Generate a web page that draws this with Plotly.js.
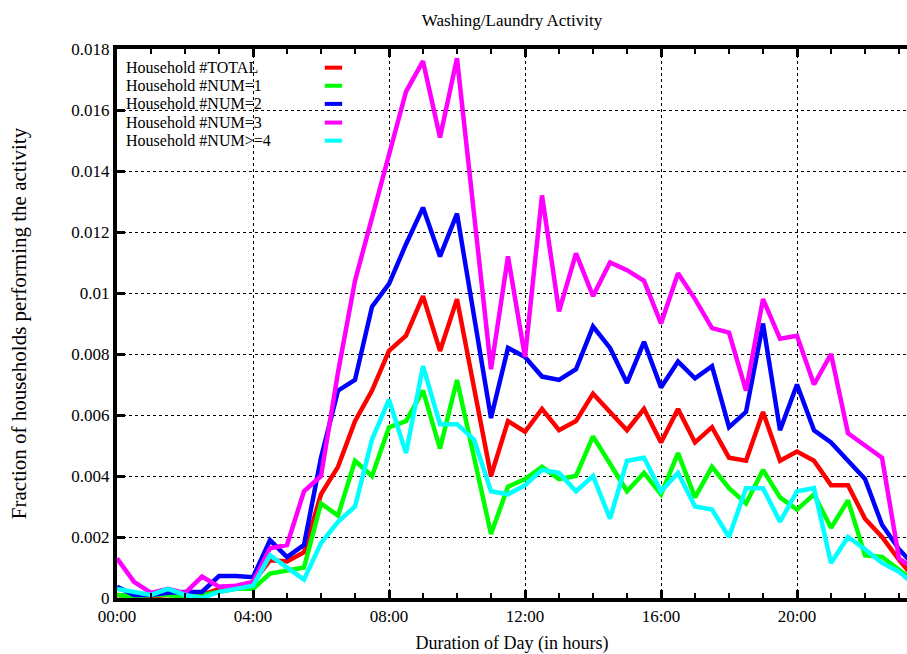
<!DOCTYPE html>
<html>
<head>
<meta charset="utf-8">
<script src="https://cdn.plot.ly/plotly-3.0.1.min.js"></script>
<style>
html,body{margin:0;padding:0;background:#fff;}
#chart{width:907px;height:654px;}
</style>
</head>
<body>
<div id="chart"></div>
<script>
// Half-hour time points (hours since midnight)
const hours = [0,0.5,1,1.5,2,2.5,3,3.5,4,4.5,5,5.5,6,6.5,7,7.5,8,8.5,9,9.5,10,10.5,11,11.5,
               12,12.5,13,13.5,14,14.5,15,15.5,16,16.5,17,17.5,18,18.5,19,19.5,20,20.5,21,21.5,22,22.5,23,23.5];

const seriesNames = ["Household #TOTAL","Household #NUM=1","Household #NUM=2","Household #NUM=3","Household #NUM>=4"];

const total = [0.0001,0.00005,0.00005,0.0001,0.0001,0.0001,0.0003,0.00038,0.0005,0.00124,0.0012,0.0015,
               0.0034,0.0043,0.0058,0.0068,0.0081,0.0086,0.0099,0.0081,0.0098,0.0069,0.0040,0.0058,
               0.00545,0.0062,0.0055,0.0058,0.0067,0.0061,0.0055,0.0062,0.0051,0.0062,0.0051,0.0056,
               0.0046,0.0045,0.0061,0.0045,0.0048,0.0045,0.0037,0.0037,0.0026,0.0020,0.00125,0.0006];

const num1 = [0.0001,0.00005,0.0001,0.0001,0.00005,0.0001,0.0002,0.0003,0.0003,0.0008,0.0009,0.001,
              0.0031,0.0027,0.0045,0.0040,0.0056,0.0058,0.0068,0.0049,0.00715,0.0046,0.0021,0.00365,
              0.0039,0.0043,0.0039,0.0040,0.0053,0.0044,0.0035,0.0041,0.0034,0.00475,0.0033,0.0043,
              0.0036,0.0031,0.0042,0.0033,0.0029,0.0034,0.0023,0.0032,0.0014,0.00135,0.0009,0.0005];

const num2 = [0.00037,0.0001,0.0001,0.00017,0.0002,0.0002,0.00072,0.00072,0.00068,0.0019,0.00134,0.00174,
              0.0046,0.0068,0.00715,0.00955,0.0103,0.0116,0.0128,0.0112,0.0126,0.0092,0.0059,0.0082,
              0.0079,0.00726,0.00715,0.0075,0.0089,0.0082,0.00705,0.0084,0.0069,0.00775,0.0072,0.0076,
              0.0056,0.0061,0.0090,0.0055,0.0070,0.0055,0.0051,0.0045,0.0039,0.0024,0.0016,0.0010];

const num3 = [0.0013,0.00053,0.00017,0.0003,0.00016,0.0007,0.00037,0.0004,0.00053,0.00163,0.00174,0.0035,
              0.0040,0.0074,0.0104,0.0125,0.0146,0.0166,0.0176,0.0151,0.0177,0.0126,0.0075,0.0112,
              0.0079,0.0132,0.0094,0.0113,0.0099,0.0110,0.01075,0.0104,0.0090,0.01065,0.0098,0.00885,
              0.0087,0.0068,0.0098,0.0085,0.0086,0.0070,0.0080,0.0054,0.0050,0.0046,0.0013,0.0009];

const num4 = [0.0003,0.0002,0.0001,0.0003,0.0001,0.0,0.0002,0.0003,0.0004,0.0014,0.001,0.0006,
              0.0018,0.0025,0.0030,0.0052,0.0065,0.00475,0.0076,0.0057,0.0057,0.0052,0.0035,0.0034,
              0.0037,0.0042,0.0041,0.0035,0.0040,0.0026,0.0045,0.0046,0.0035,0.0041,0.0030,0.0029,
              0.0020,0.0036,0.0036,0.0025,0.0035,0.0036,0.00115,0.0020,0.0016,0.00115,0.00086,0.0004];

const xTickVals = [0,4,8,12,16,20];
const xTickText = ["00:00","04:00","08:00","12:00","16:00","20:00"];
const yTickVals = [0,0.002,0.004,0.006,0.008,0.01,0.012,0.014,0.016,0.018];
const yTickText = ["0","0.002","0.004","0.006","0.008","0.01","0.012","0.014","0.016","0.018"];

const colors = ["#ff0000","#00ff00","#0000ff","#ff00ff","#00ffff"];
const seriesValues = [total,num1,num2,num3,num4];

const SERIF = "Liberation Serif, Times New Roman, serif";

const traces = seriesValues.map((vals,k)=>({
  x: hours, y: vals, type: "scatter", mode: "lines", name: seriesNames[k],
  line: {color: colors[k], width: 4.5}, showlegend: false, cliponaxis: true
}));

// custom key (text left, sample line right) like gnuplot
const annotations = [];
const shapes = [{
  type:"rect", xref:"paper", yref:"paper", x0:0.004, x1:0.299, y0:0.816, y1:0.994,
  fillcolor:"#ffffff", line:{width:0}, layer:"between"
}];
const keyY = [0.966,0.933,0.9,0.866,0.833];
seriesNames.forEach((n,k)=>{
  annotations.push({xref:"paper", yref:"paper", x:0.009, y:keyY[k], xanchor:"left", yanchor:"middle",
    text:n.replace(/>/g,"&gt;"), showarrow:false, font:{family:SERIF, size:16, color:"#000"}});
  shapes.push({type:"line", xref:"paper", yref:"paper", x0:0.263, x1:0.285, y0:keyY[k], y1:keyY[k],
    line:{color:colors[k], width:4}});
});

const layout = {
  width: 907, height: 654,
  margin: {l:117, r:0, t:49, b:56, pad:0},
  paper_bgcolor:"#fff", plot_bgcolor:"#fff",
  font:{family:SERIF, color:"#000"},
  title:{text:"Washing/Laundry Activity", x:0.5, xref:"paper", xanchor:"center", y:0.9694, yref:"container", yanchor:"middle",
         font:{family:SERIF, size:17, color:"#000"}},
  xaxis:{
    range:[0,23.235], tickvals:xTickVals, ticktext:xTickText,
    ticks:"inside", ticklen:8, tickwidth:3, tickcolor:"#000",
    showline:true, linewidth:4, linecolor:"#000", mirror:"allticks",
    showgrid:true, gridcolor:"#000", gridwidth:1, griddash:"dot", zeroline:false,
    minor:{dtick:1, tick0:0, ticks:"inside", ticklen:5, tickwidth:2, tickcolor:"#000", showgrid:false},
    tickfont:{family:SERIF, size:17, color:"#000"},
    title:{text:"Duration of Day (in hours)", font:{family:SERIF, size:18, color:"#000"}, standoff:14},
    fixedrange:true
  },
  yaxis:{
    range:[0,0.018], tickvals:yTickVals, ticktext:yTickText,
    ticks:"inside", ticklen:8, tickwidth:3, tickcolor:"#000",
    showline:true, linewidth:4, linecolor:"#000", mirror:false,
    showgrid:true, gridcolor:"#000", gridwidth:1, griddash:"dot", zeroline:false,
    tickfont:{family:SERIF, size:17, color:"#000"},
    title:{text:"Fraction of households performing the activity", font:{family:SERIF, size:21, color:"#000"}, standoff:40},
    fixedrange:true
  },
  annotations: annotations,
  shapes: shapes,
  showlegend:false
};

Plotly.newPlot("chart", traces, layout, {displayModeBar:false, staticPlot:true});
</script>
</body>
</html>
